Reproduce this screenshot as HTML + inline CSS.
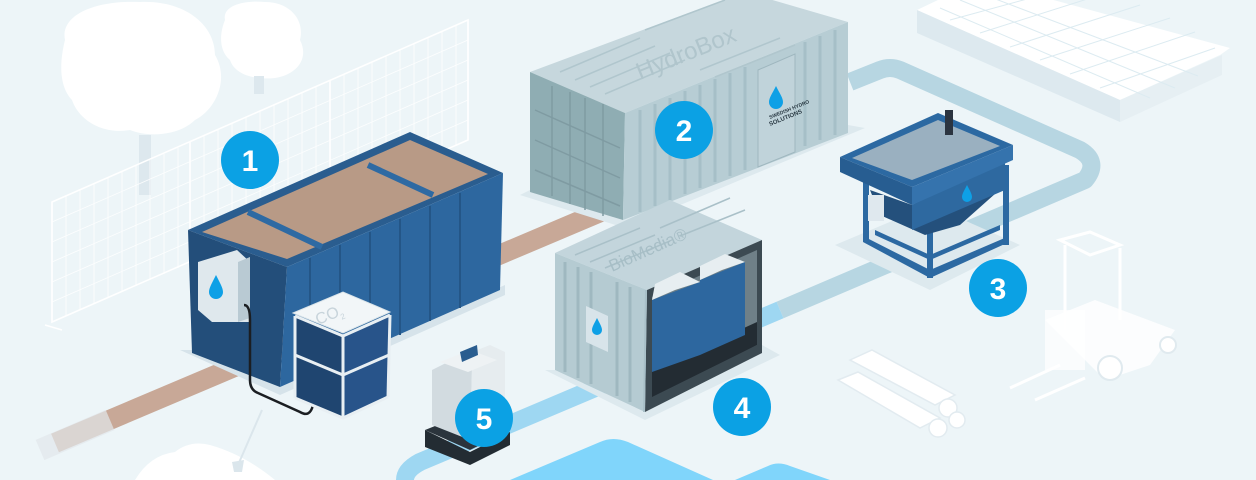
<!DOCTYPE html>
<html><head><meta charset="utf-8"><style>
html,body{margin:0;padding:0;background:#edf5f8;}
svg{display:block}
</style></head><body>
<svg width="1256" height="480" viewBox="0 0 1256 480" xmlns="http://www.w3.org/2000/svg" font-family="Liberation Sans, sans-serif">
<rect width="1256" height="480" fill="#edf5f8"/>

<!-- solar platform -->
<polygon points="917,10 980,-20 1230,48 1220,55 1120,100 917,10" fill="#ffffff"/>
<polygon points="917,10 1120,100 1120,122 917,33" fill="#dde9ef"/>
<polygon points="1120,100 1222,55 1222,75 1120,122" fill="#e6eff3"/>
<g stroke="#dcebf1" stroke-width="1">
<line x1="940" y1="8" x2="1150" y2="98"/><line x1="960" y1="0" x2="1175" y2="88"/><line x1="985" y1="-5" x2="1198" y2="76"/>
<line x1="950" y1="20" x2="1060" y2="-10"/><line x1="980" y1="33" x2="1100" y2="-5"/><line x1="1010" y1="47" x2="1140" y2="5"/><line x1="1040" y1="60" x2="1170" y2="18"/><line x1="1070" y1="74" x2="1195" y2="32"/><line x1="1100" y1="88" x2="1215" y2="48"/>
</g>

<!-- trees -->
<g fill="#ffffff">
<path d="M65,40 C60,15 95,0 140,2 C185,0 215,25 215,55 C230,80 215,110 195,120 C180,135 150,138 130,130 C100,135 78,118 72,100 C58,85 60,60 65,40Z"/>
<path d="M225,20 C222,5 245,0 265,2 C290,2 305,20 300,40 C310,60 295,75 275,78 C255,80 235,75 230,60 C218,50 220,32 225,20Z"/>
</g>
<rect x="139" y="135" width="12" height="60" fill="#dde8ee"/>
<rect x="254" y="76" width="10" height="18" fill="#dde8ee"/>

<!-- fence -->
<g stroke="#ffffff" stroke-width="1.6" fill="none">
<polygon points="52,202 468,20 468,140 52,322"/>
<line x1="190" y1="142" x2="190" y2="262"/><line x1="330" y1="80" x2="330" y2="200"/>
<line x1="45" y1="325" x2="62" y2="330"/>
</g>
<g stroke="#ffffff" stroke-width="0.8" opacity="0.9">
<line x1="52" y1="222" x2="468" y2="40"/><line x1="52" y1="242" x2="468" y2="60"/><line x1="52" y1="262" x2="468" y2="80"/><line x1="52" y1="282" x2="468" y2="100"/><line x1="52" y1="302" x2="468" y2="120"/>
<line x1="66" y1="196" x2="66" y2="316"/><line x1="80" y1="190" x2="80" y2="310"/><line x1="94" y1="184" x2="94" y2="304"/><line x1="108" y1="178" x2="108" y2="298"/><line x1="122" y1="172" x2="122" y2="292"/><line x1="136" y1="166" x2="136" y2="286"/><line x1="150" y1="160" x2="150" y2="280"/><line x1="164" y1="154" x2="164" y2="274"/><line x1="178" y1="148" x2="178" y2="268"/><line x1="204" y1="136" x2="204" y2="256"/><line x1="218" y1="130" x2="218" y2="250"/><line x1="232" y1="124" x2="232" y2="244"/><line x1="246" y1="117" x2="246" y2="237"/><line x1="260" y1="111" x2="260" y2="231"/><line x1="274" y1="105" x2="274" y2="225"/><line x1="288" y1="99" x2="288" y2="219"/><line x1="302" y1="92" x2="302" y2="212"/><line x1="316" y1="86" x2="316" y2="206"/><line x1="344" y1="74" x2="344" y2="194"/><line x1="358" y1="68" x2="358" y2="188"/><line x1="372" y1="62" x2="372" y2="182"/><line x1="386" y1="56" x2="386" y2="176"/><line x1="400" y1="50" x2="400" y2="170"/><line x1="414" y1="44" x2="414" y2="164"/><line x1="428" y1="38" x2="428" y2="158"/><line x1="442" y1="32" x2="442" y2="152"/><line x1="456" y1="26" x2="456" y2="146"/>
</g>

<!-- brown path -->
<path d="M55,443 L610,208" stroke="#c8a897" stroke-width="20" fill="none"/>
<path d="M40,450 L110,420" stroke="#e3e8ec" stroke-width="22" opacity="0.7"/>

<!-- light blue path -->
<path d="M850,82 L880,70 Q890,66 900,70 L1080,150 Q1100,162 1085,180 L780,310" stroke="#b7d6e2" stroke-width="18" fill="none" stroke-linejoin="round"/>
<path d="M780,310 L420,462 Q405,470 405,480" stroke="#9ed7f2" stroke-width="18" fill="none"/>

<!-- pool -->
<path d="M510,480 L600,442 Q613,436 628,442 L713,480Z" fill="#80d5fb"/>
<path d="M735,480 L768,466 Q778,461 790,466 L830,480Z" fill="#80d5fb"/>

<!-- sand pile + shovel -->
<path d="M135,480 Q150,455 175,452 Q190,440 210,445 Q245,455 275,480Z" fill="#ffffff"/>
<line x1="238" y1="465" x2="262" y2="410" stroke="#dbe6ec" stroke-width="2"/>
<polygon points="232,462 244,460 242,472 234,472" fill="#dbe6ec"/>

<!-- container 2 shadow -->
<polygon points="520,195 625,228 865,128 848,125 623,220 530,190" fill="#dde9ee"/>
<!-- container 2 -->
<polygon points="530,72 745,-8 848,22 625,113" fill="#c6d7dd"/>
<polygon points="530,72 625,113 623,220 530,192" fill="#8fadb3"/>
<polygon points="625,113 848,22 848,133 623,220" fill="#b7cdd4"/>
<g stroke="#a6bfc7" stroke-width="3">
<line x1="640" y1="110" x2="640" y2="212"/><line x1="655" y1="104" x2="655" y2="206"/><line x1="670" y1="98" x2="670" y2="200"/><line x1="685" y1="91" x2="685" y2="194"/><line x1="700" y1="85" x2="700" y2="188"/><line x1="715" y1="79" x2="715" y2="182"/><line x1="730" y1="73" x2="730" y2="176"/><line x1="745" y1="67" x2="745" y2="170"/><line x1="805" y1="42" x2="805" y2="146"/><line x1="820" y1="36" x2="820" y2="140"/><line x1="835" y1="30" x2="835" y2="135"/>
</g>
<polygon points="758,70 795,54 795,152 758,167" fill="#c0d3da" stroke="#9fb7bf" stroke-width="1"/>
<path d="M776,86 C772,94 769,98 769,102 A7,7 0 0 0 783,102 C783,98 780,94 776,86Z" fill="#0ea0e6"/>
<text x="0" y="0" font-size="5" font-weight="bold" fill="#2a3a44" transform="translate(770,119) rotate(-22)">SWEDISH HYDRO</text>
<text x="0" y="0" font-size="6" font-weight="bold" fill="#2a3a44" transform="translate(770,126) rotate(-22)">SOLUTIONS</text>
<g stroke="#7f9ba2" stroke-width="1.5" fill="none">
<line x1="535" y1="110" x2="620" y2="148"/><line x1="535" y1="140" x2="620" y2="178"/><line x1="535" y1="170" x2="620" y2="206"/>
<line x1="552" y1="86" x2="552" y2="196"/><line x1="570" y1="92" x2="570" y2="204"/><line x1="585" y1="98" x2="585" y2="210"/><line x1="603" y1="104" x2="603" y2="216"/>
</g>
<g stroke="#b0c6cd" stroke-width="1.5" fill="none">
<polyline points="560,72 640,38"/><polyline points="575,80 655,46"/><polyline points="590,87 670,53"/><polyline points="605,94 685,60"/><polyline points="645,30 725,0"/><polyline points="700,70 780,38"/><polyline points="715,77 795,45"/>
</g>
<text x="0" y="0" font-size="24" fill="#b0c5cc" transform="translate(640,80) rotate(-22)">HydroBox</text>

<!-- item 3 -->
<polygon points="835,245 930,290 1020,245 930,205" fill="#dde9ee"/>
<g fill="#2c69a2">
<rect x="863" y="180" width="6" height="62"/><rect x="927" y="200" width="6" height="78"/><rect x="1003" y="165" width="6" height="80"/>
<polygon points="863,236 930,270 1007,237 1007,243 930,278 863,242"/>
<polygon points="875,230 930,255 1000,225 1000,230 930,260 875,235"/>
</g>
<polygon points="870,190 912,205 1005,160 1005,185 960,225 925,235 880,215" fill="#24507c"/>
<polygon points="912,205 1005,160 1005,190 912,230" fill="#2e69a0"/>
<polygon points="840,157 938,113 1013,145 912,187" fill="#2c69a2"/>
<polygon points="852,158 938,120 1000,146 912,180" fill="#9ab0c0"/>
<polygon points="840,157 912,187 912,205 840,172" fill="#275d91"/>
<polygon points="912,187 1013,145 1013,160 912,205" fill="#3573ad"/>
<rect x="868" y="195" width="16" height="26" fill="#dfe8ee"/>
<path d="M967,185 C964,191 962,194 962,197 A5,5 0 0 0 972,197 C972,194 970,191 967,185Z" fill="#0ea0e6"/>
<rect x="945" y="110" width="8" height="25" fill="#2b3440"/>

<!-- container 1 -->
<polygon points="180,350 280,395 505,295 505,285 280,385 192,350" fill="#d6e3ea"/>
<polygon points="188,230 410,132 503,173 287,267" fill="#2a5d8f"/>
<polygon points="202,232 410,140 488,174 287,259" fill="#b89a86"/>
<line x1="248" y1="212" x2="322" y2="247" stroke="#2e6aa3" stroke-width="6"/>
<line x1="368" y1="165" x2="433" y2="195" stroke="#2e6aa3" stroke-width="6"/>
<polygon points="188,230 287,267 280,387 192,353" fill="#234e7a"/>
<polygon points="287,267 503,173 500,290 280,387" fill="#2d679f"/>
<g stroke="#245687" stroke-width="2">
<line x1="310" y1="258" x2="310" y2="375"/><line x1="340" y1="245" x2="340" y2="362"/><line x1="370" y1="232" x2="370" y2="348"/><line x1="400" y1="219" x2="400" y2="335"/><line x1="430" y1="206" x2="430" y2="321"/><line x1="460" y1="193" x2="460" y2="308"/>
</g>
<polygon points="198,262 237,250 250,262 250,322 212,322 198,310" fill="#dfe8ed"/>
<polygon points="238,262 250,257 250,318 238,322" fill="#b9cad3"/>
<path d="M216,275 C212,283 209,288 209,292 A7,7 0 0 0 223,292 C223,288 220,283 216,275Z" fill="#0ea0e6"/>
<path d="M244,305 Q250,305 250,320 L250,380 Q250,390 258,393 L300,412 Q310,418 313,405 L313,330" stroke="#1b1e22" stroke-width="2.5" fill="none"/>

<!-- CO2 cage -->
<polygon points="293,313 343,292 390,312 343,333" fill="#f2f6f8" stroke="#dbe5ea"/>
<polygon points="295,316 343,336 343,418 295,398" fill="#1f4570"/>
<polygon points="343,336 390,315 388,397 343,418" fill="#28548a"/>
<g stroke="#e8eff3" stroke-width="3" fill="none">
<polyline points="295,316 343,336 390,315"/><line x1="295" y1="316" x2="295" y2="398"/><line x1="343" y1="336" x2="343" y2="418"/><line x1="390" y1="315" x2="388" y2="397"/>
<polyline points="295,398 343,418 388,397"/><polyline points="295,355 343,375 389,355"/>
</g>
<text x="0" y="0" font-size="16" fill="#c8d4db" transform="translate(318,325) rotate(-22)">CO<tspan font-size="8" dy="4">2</tspan></text>

<!-- item 5 -->
<polygon points="425,430 470,452 510,432 510,445 470,465 425,447" fill="#232c33"/>
<polygon points="425,430 470,450 510,430 470,412" fill="#2b343c"/>
<polygon points="432,370 452,360 472,368 470,440 432,425" fill="#d2dbe0"/>
<polygon points="452,360 490,345 505,352 505,420 470,440 472,368" fill="#e6ecef"/>
<polygon points="440,362 470,350 497,360 468,372" fill="#eef2f4"/>
<polygon points="460,352 477,345 478,355 462,362" fill="#2a5d8f"/>

<!-- container 4 -->
<polygon points="545,370 645,420 780,355 762,345 645,412 555,370" fill="#dde9ee"/>
<polygon points="555,253 670,200 762,240 647,290" fill="#c3d5dc"/>
<polygon points="555,253 647,290 645,412 555,370" fill="#b5cbd2"/>
<g stroke="#9fb8c0" stroke-width="3">
<line x1="565" y1="262" x2="565" y2="372"/><line x1="578" y1="267" x2="578" y2="378"/><line x1="591" y1="272" x2="591" y2="384"/><line x1="617" y1="282" x2="617" y2="396"/><line x1="630" y1="287" x2="630" y2="402"/>
</g>
<polygon points="586,306 608,316 608,352 586,342" fill="#d8e4ea"/>
<path d="M597,318 C594,324 592,327 592,330 A5,5 0 0 0 602,330 C602,327 600,324 597,318Z" fill="#0ea0e6"/>
<polygon points="647,290 762,240 762,353 645,412" fill="#3c4a52"/>
<polygon points="652,297 757,250 757,345 652,395" fill="#6f8088"/>
<polygon points="652,370 757,322 757,345 652,397" fill="#232c33"/>
<polygon points="652,300 700,282 700,355 652,372" fill="#2d679f"/>
<polygon points="700,280 745,262 745,335 700,355" fill="#2d679f"/>
<polygon points="652,300 675,290 700,282 680,272 655,284" fill="#e7eef1"/>
<polygon points="700,280 722,270 745,262 725,254 700,266" fill="#e7eef1"/>
<polygon points="645,290 647,290 645,412 643,412" fill="#a9c0c8"/>
<g stroke="#a9c0c8" stroke-width="1.5" fill="none">
<polyline points="575,255 640,228"/><polyline points="590,262 655,235"/><polyline points="605,268 670,241"/><polyline points="660,228 730,198"/><polyline points="680,236 745,210"/>
</g>
<text x="0" y="0" font-size="17" fill="#a7bec6" transform="translate(612,272) rotate(-24)">BioMedia®</text>

<!-- forklift -->
<g fill="none" stroke="#ffffff" stroke-width="3">
<polygon points="1060,240 1090,232 1120,245 1090,255"/>
<line x1="1065" y1="245" x2="1065" y2="330"/><line x1="1120" y1="248" x2="1120" y2="320"/>
<line x1="1010" y1="388" x2="1060" y2="365"/><line x1="1035" y1="400" x2="1085" y2="378"/>
</g>
<polygon points="1045,320 1095,300 1175,330 1150,365 1105,380" fill="#ffffff" opacity="0.8"/>
<rect x="1045" y="310" width="40" height="60" fill="#ffffff" opacity="0.7"/>
<circle cx="1110" cy="368" r="12" fill="#ffffff" stroke="#e0eaef" stroke-width="2"/>
<circle cx="1168" cy="345" r="8" fill="#ffffff" stroke="#e0eaef" stroke-width="2"/>

<!-- pipes -->
<g fill="#ffffff" stroke="#e2ebf0" stroke-width="1.5">
<polygon points="850,360 872,350 955,395 935,405"/>
<polygon points="838,380 858,372 940,418 920,428"/>
<circle cx="948" cy="408" r="9"/><circle cx="938" cy="428" r="9"/><circle cx="957" cy="420" r="8"/>
</g>

<!-- numbered circles -->
<g fill="#0ba1e4">
<circle cx="250" cy="160" r="29"/><circle cx="684" cy="130" r="29"/><circle cx="998" cy="288" r="29"/><circle cx="742" cy="407" r="29"/><circle cx="484" cy="418" r="29"/>
</g>
<g fill="#ffffff" font-size="30" font-weight="bold" text-anchor="middle">
<text x="250" y="171">1</text><text x="684" y="141">2</text><text x="998" y="299">3</text><text x="742" y="418">4</text><text x="484" y="429">5</text>
</g>
</svg>
</body></html>
